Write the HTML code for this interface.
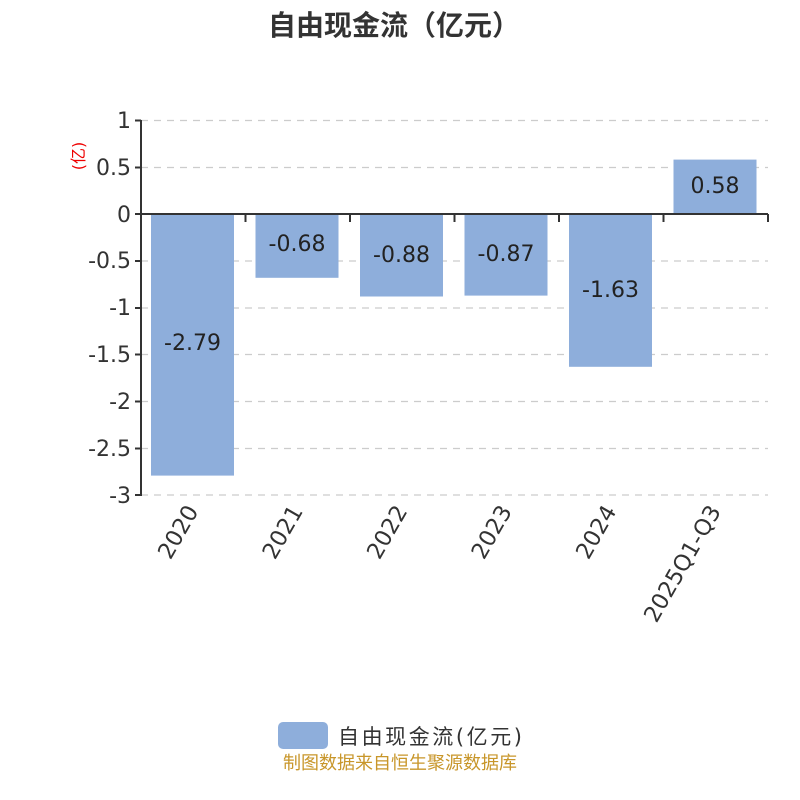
<!DOCTYPE html>
<html><head><meta charset="utf-8"><style>body{margin:0;background:#fff}svg{display:block}</style></head><body>
<svg width="800" height="800" viewBox="0 0 800 800" xmlns="http://www.w3.org/2000/svg" font-family="'DejaVu Sans','Noto Sans CJK SC',sans-serif">
<rect width="800" height="800" fill="#fff"/>
<text x="394" y="35" text-anchor="middle" font-size="28" font-weight="bold" fill="#333" font-family="'Noto Sans CJK SC',sans-serif">自由现金流（亿元）</text>
<g stroke="#ccc" stroke-width="1.3" stroke-dasharray="7,6">
<line x1="141" y1="120.5" x2="768" y2="120.5"/>
<line x1="141" y1="167.5" x2="768" y2="167.5"/>
<line x1="141" y1="261" x2="768" y2="261"/>
<line x1="141" y1="308" x2="768" y2="308"/>
<line x1="141" y1="354.5" x2="768" y2="354.5"/>
<line x1="141" y1="401.5" x2="768" y2="401.5"/>
<line x1="141" y1="448.5" x2="768" y2="448.5"/>
<line x1="141" y1="495" x2="768" y2="495"/>
</g>
<g fill="#8eaedb">
<rect x="151" y="214" width="83" height="261.6"/>
<rect x="255.5" y="214" width="83" height="63.8"/>
<rect x="360" y="214" width="83" height="82.5"/>
<rect x="464.5" y="214" width="83" height="81.6"/>
<rect x="569" y="214" width="83" height="152.8"/>
<rect x="673.5" y="159.6" width="83" height="54.4"/>
</g>
<g stroke="#333" stroke-width="2" fill="none">
<line x1="141" y1="120" x2="141" y2="496"/>
<line x1="141" y1="214" x2="768" y2="214"/>
<line x1="135" y1="120.5" x2="141" y2="120.5"/>
<line x1="135" y1="167.5" x2="141" y2="167.5"/>
<line x1="135" y1="214" x2="141" y2="214"/>
<line x1="135" y1="261" x2="141" y2="261"/>
<line x1="135" y1="308" x2="141" y2="308"/>
<line x1="135" y1="354.5" x2="141" y2="354.5"/>
<line x1="135" y1="401.5" x2="141" y2="401.5"/>
<line x1="135" y1="448.5" x2="141" y2="448.5"/>
<line x1="135" y1="495" x2="141" y2="495"/>
<line x1="245.5" y1="214" x2="245.5" y2="222"/>
<line x1="350" y1="214" x2="350" y2="222"/>
<line x1="454.5" y1="214" x2="454.5" y2="222"/>
<line x1="559" y1="214" x2="559" y2="222"/>
<line x1="663.5" y1="214" x2="663.5" y2="222"/>
<line x1="768" y1="214" x2="768" y2="222"/>
</g>
<g font-size="22" fill="#333" text-anchor="end">
<text x="131" y="128">1</text>
<text x="131" y="175">0.5</text>
<text x="131" y="222">0</text>
<text x="131" y="268">-0.5</text>
<text x="131" y="315">-1</text>
<text x="131" y="362">-1.5</text>
<text x="131" y="409">-2</text>
<text x="131" y="456">-2.5</text>
<text x="131" y="503">-3</text>
</g>
<text transform="translate(84,156) rotate(-90)" text-anchor="middle" font-size="16" fill="#e00">(亿)</text>
<g font-size="22" fill="#222" text-anchor="middle">
<text x="192.5" y="350">-2.79</text>
<text x="297" y="251">-0.68</text>
<text x="401.5" y="262">-0.88</text>
<text x="506" y="261">-0.87</text>
<text x="610.5" y="297">-1.63</text>
<text x="715" y="193">0.58</text>
</g>
<g font-size="22.5" fill="#333" text-anchor="end">
<text transform="translate(199,511) rotate(-60)">2020</text>
<text transform="translate(303.5,511) rotate(-60)">2021</text>
<text transform="translate(408,511) rotate(-60)">2022</text>
<text transform="translate(512.5,511) rotate(-60)">2023</text>
<text transform="translate(617,511) rotate(-60)">2024</text>
<text transform="translate(721.5,511) rotate(-60)">2025Q1-Q3</text>
</g>
<rect x="278" y="722" width="50" height="27" rx="5" fill="#8eaedb"/>
<text x="338" y="744" font-size="21" fill="#333" textLength="184">自由现金流(亿元)</text>
<text x="400" y="769" text-anchor="middle" font-size="18" fill="#c8962a" font-family="'Noto Sans CJK SC',sans-serif">制图数据来自恒生聚源数据库</text>
</svg>
</body></html>
